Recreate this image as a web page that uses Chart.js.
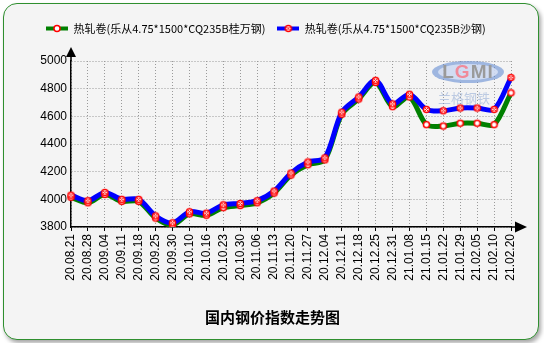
<!DOCTYPE html>
<html>
<head>
<meta charset="utf-8">
<script src="https://cdn.jsdelivr.net/npm/chart.js@4"></script>
<style>
  body { margin: 0; background: #fff; }
  #frame {
    position: absolute; left: 3px; top: 3px; width: 536px; height: 337px;
    box-sizing: border-box; border: 1.5px solid #2f8f2f; border-radius: 14px;
    background: #f4f4f4; box-shadow: 2px 3px 4px rgba(0,0,0,0.35);
  }
  #wrap { position: absolute; left: 0; top: 0; width: 544px; height: 343px; }
</style>
</head>
<body>
<div id="frame"></div>
<div id="wrap"><canvas id="steelChart" width="544" height="343"></canvas></div>
<script>
// dates on the x axis
const dates = ['20.08.21', '20.08.28', '20.09.04', '20.09.11', '20.09.18', '20.09.25', '20.09.30',
  '20.10.10', '20.10.16', '20.10.23', '20.10.30', '20.11.06', '20.11.13', '20.11.20', '20.11.27',
  '20.12.04', '20.12.11', '20.12.18', '20.12.25', '20.12.31', '21.01.08', '21.01.15', '21.01.22',
  '21.01.29', '21.02.05', '21.02.10', '21.02.20'];

// 桂万钢
const guiwan = [4015, 3975, 4035, 3985, 3985, 3865, 3815, 3895, 3885, 3940, 3955, 3975, 4045, 4175,
  4250, 4285, 4615, 4725, 4845, 4670, 4740, 4540, 4530, 4550, 4550, 4540, 4770];
// 沙钢
const shagang = [4030, 3990, 4050, 4000, 4000, 3880, 3830, 3910, 3900, 3960, 3970, 3990, 4060, 4190,
  4270, 4300, 4630, 4740, 4860, 4690, 4760, 4650, 4640, 4660, 4660, 4650, 4880];

const seriesNames = ['热轧卷(乐从4.75*1500*CQ235B桂万钢)', '热轧卷(乐从4.75*1500*CQ235B沙钢)'];
const yMin = 3800, yMax = 5000, yStep = 200;

const cjk = '"Noto Sans CJK SC", "Noto Sans", sans-serif';
const latin = '"Liberation Sans", Arial, sans-serif';

function drawMarker(g, x, y, cross) {
  g.fillStyle = '#fff';
  g.strokeStyle = '#ff0000';
  g.lineWidth = 1.5;
  g.beginPath();
  g.arc(x, y, 3, 0, Math.PI * 2);
  g.fill();
  g.stroke();
  if (cross) {
    g.lineWidth = 1;
    g.beginPath();
    g.moveTo(x - 1.6, y - 1.6); g.lineTo(x + 1.6, y + 1.6);
    g.moveTo(x + 1.6, y - 1.6); g.lineTo(x - 1.6, y + 1.6);
    g.stroke();
  }
}

function legendIcon(color, cross) {
  const c = document.createElement('canvas');
  c.width = 22; c.height = 9;
  const g = c.getContext('2d');
  g.strokeStyle = color;
  g.lineWidth = 4;
  g.beginPath(); g.moveTo(0, 4.5); g.lineTo(22, 4.5); g.stroke();
  drawMarker(g, 11, 4.5, cross);
  return c;
}

function pointIcon(cross) {
  const c = document.createElement('canvas');
  c.width = 9; c.height = 9;
  drawMarker(c.getContext('2d'), 4.5, 4.5, cross);
  return c;
}

// arrows on the axes
const axisArrows = {
  id: 'axisArrows',
  afterDraw(chart) {
    const { ctx, chartArea: a } = chart;
    ctx.save();
    ctx.strokeStyle = '#000';
    ctx.fillStyle = '#000';
    ctx.lineWidth = 1.5;
    ctx.beginPath();
    ctx.moveTo(a.left, a.top); ctx.lineTo(a.left, a.top - 5);
    ctx.moveTo(a.right, a.bottom); ctx.lineTo(a.right + 5, a.bottom);
    ctx.stroke();
    ctx.beginPath();
    ctx.moveTo(a.left, a.top - 14);
    ctx.lineTo(a.left + 5, a.top - 4);
    ctx.lineTo(a.left - 5, a.top - 4);
    ctx.closePath();
    ctx.fill();
    ctx.beginPath();
    ctx.moveTo(a.right + 16, a.bottom);
    ctx.lineTo(a.right + 4, a.bottom - 5.5);
    ctx.lineTo(a.right + 4, a.bottom + 5.5);
    ctx.closePath();
    ctx.fill();
    ctx.restore();
  }
};

// faint LGMI logo behind the lines
const watermark = {
  id: 'watermark',
  beforeDatasetsDraw(chart) {
    const { ctx, chartArea: a } = chart;
    const cx = a.right - 43, cy = a.top + 11;
    ctx.save();
    ctx.fillStyle = 'rgba(100,140,210,0.6)';
    ctx.beginPath(); ctx.ellipse(cx, cy, 36, 11, 0, 0, Math.PI * 2); ctx.fill();
    ctx.fillStyle = 'rgba(225,232,248,0.75)';
    ctx.beginPath(); ctx.ellipse(cx, cy, 30, 8, 0, 0, Math.PI * 2); ctx.fill();
    ctx.font = 'bold 19px ' + latin;
    ctx.textBaseline = 'middle';
    const letters = ['L', 'G', 'M', 'I'];
    const cols = ['#9a9a9a', '#f08a9a', '#9a9a9a', '#9a9a9a'];
    let w = 0;
    letters.forEach(l => { w += ctx.measureText(l).width + 1; });
    let x = cx - w / 2;
    letters.forEach((l, i) => {
      ctx.fillStyle = cols[i];
      ctx.fillText(l, x, cy + 1);
      x += ctx.measureText(l).width + 1;
    });
    ctx.font = '13px ' + cjk;
    ctx.fillStyle = 'rgba(120,150,205,0.45)';
    ctx.textAlign = 'center';
    ctx.fillText('兰格钢铁', cx - 4, cy + 26);
    ctx.restore();
  }
};

const gridDash = { display: true, color: '#000', width: 1.5, dash: [1, 2] };

new Chart(document.getElementById('steelChart'), {
  type: 'line',
  data: {
    labels: dates,
    datasets: [
      { label: seriesNames[0], data: guiwan, borderColor: '#008000', backgroundColor: '#008000',
        borderWidth: 5, pointRadius: 0, tension: 0.3, order: 3, pointStyle: legendIcon('#008000', false) },
      { label: seriesNames[1], data: shagang, borderColor: '#0000ff', backgroundColor: '#0000ff',
        borderWidth: 5, pointRadius: 0, tension: 0.3, order: 2, pointStyle: legendIcon('#0000ff', true) },
      { label: 'p1', data: guiwan, showLine: false, pointStyle: pointIcon(false), pointRadius: 4, order: 1 },
      { label: 'p2', data: shagang, showLine: false, pointStyle: pointIcon(true), pointRadius: 4, order: 0 }
    ]
  },
  options: {
    responsive: false,
    animation: false,
    events: [],
    layout: { padding: { left: 34, right: 33, top: 11, bottom: 0 } },
    plugins: {
      legend: {
        align: 'start',
        labels: {
          usePointStyle: true,
          pointStyleWidth: 22,
          padding: 12,
          color: '#000',
          font: { family: cjk, size: 11 },
          filter: item => item.datasetIndex < 2,
          sort: (a, b) => a.datasetIndex - b.datasetIndex
        }
      },
      subtitle: { display: true, text: '', weight: 500, padding: { top: 0, bottom: 16 },
        font: { size: 1, lineHeight: 1 } },
      title: {
        display: true, position: 'bottom', text: '国内钢价指数走势图', color: '#000',
        font: { family: cjk, size: 15, weight: 'bold', lineHeight: 1.2 },
        padding: { top: 11, bottom: 17 }
      },
      tooltip: { enabled: false }
    },
    scales: {
      x: {
        afterFit(scale) { scale.height = 70; },
        grid: { color: '#9a9a9a', drawTicks: true, tickLength: 4, tickColor: '#000', tickWidth: 1 },
        border: gridDash,
        ticks: { autoSkip: false, minRotation: 90, maxRotation: 90, padding: 3, color: '#000',
          font: { family: latin, size: 12 } }
      },
      y: {
        min: yMin, max: yMax,
        afterFit(scale) { scale.width = 37; },
        grid: { color: '#9a9a9a', drawTicks: false },
        border: gridDash,
        ticks: { stepSize: yStep, padding: 4, color: '#000', font: { family: latin, size: 12 },
          callback: v => String(v) }
      }
    }
  },
  plugins: [watermark, axisArrows]
});
</script>
</body>
</html>
